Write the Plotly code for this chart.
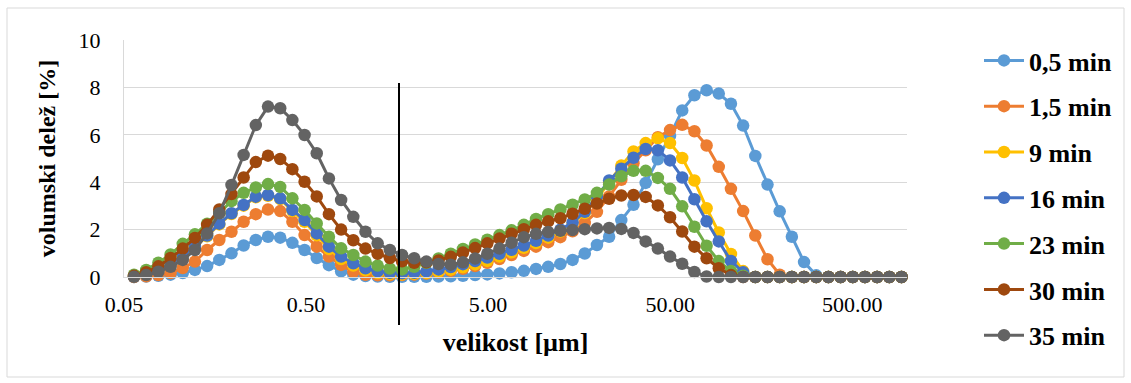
import plotly.graph_objects as go

# particle size classes [µm]
velikost = [0.05675, 0.06620, 0.07723, 0.09010, 0.1051, 0.1226, 0.1431, 0.1669, 0.1947, 0.2271,
            0.2649, 0.3091, 0.3606, 0.4206, 0.4907, 0.5725, 0.6678, 0.7791, 0.9089, 1.0603,
            1.2369, 1.4430, 1.6834, 1.9638, 2.2909, 2.6726, 3.1178, 3.6372, 4.2431, 4.9500,
            5.7746, 6.7366, 7.8588, 9.1680, 10.695, 12.477, 14.556, 16.980, 19.809, 23.109,
            26.959, 31.450, 36.689, 42.801, 49.931, 58.249, 67.952, 79.272, 92.478, 107.88,
            125.86, 146.82, 171.28, 199.81, 233.10, 271.93, 317.23, 370.08, 431.73, 503.65,
            587.56, 685.44, 799.62, 932.83]

t_0_5 = [0.0, 0.02, 0.05, 0.1, 0.17, 0.3, 0.46, 0.72, 1.0, 1.33,
         1.56, 1.7, 1.66, 1.44, 1.14, 0.8, 0.5, 0.24, 0.1, 0.04,
         0.02, 0.01, 0.01, 0.01, 0.01, 0.02, 0.03, 0.05, 0.08, 0.11,
         0.15, 0.2, 0.26, 0.34, 0.43, 0.55, 0.72, 0.99, 1.35, 1.7,
         2.4, 3.05, 3.97, 4.97, 5.96, 7.03, 7.67, 7.88, 7.74, 7.31,
         6.39, 5.11, 3.9, 2.77, 1.7, 0.63, 0.07, 0, 0, 0,
         0, 0, 0, 0]
t_1_5 = [0.0, 0.03, 0.08, 0.17, 0.38, 0.65, 1.14, 1.56, 1.91, 2.33,
         2.65, 2.85, 2.78, 2.33, 1.77, 1.28, 0.86, 0.51, 0.22, 0.09,
         0.07, 0.07, 0.08, 0.1, 0.14, 0.19, 0.26, 0.35, 0.46, 0.6,
         0.76, 0.93, 1.1, 1.28, 1.47, 1.68, 1.93, 2.28, 2.75, 3.4,
         4.1, 4.8, 5.35, 5.9, 6.2, 6.42, 6.15, 5.55, 4.65, 3.72,
         2.78, 1.75, 0.75, 0.1, 0, 0, 0, 0, 0, 0,
         0, 0, 0, 0]
t_9 = [0.03, 0.11, 0.28, 0.52, 0.87, 1.27, 1.72, 2.22, 2.66, 3.01,
       3.36, 3.43, 3.29, 2.78, 2.33, 1.76, 1.18, 0.76, 0.48, 0.28,
       0.17, 0.12, 0.11, 0.13, 0.17, 0.23, 0.31, 0.41, 0.53, 0.68,
       0.86, 1.04, 1.23, 1.43, 1.66, 1.92, 2.25, 2.7, 3.3, 4.0,
       4.7, 5.3, 5.65, 5.85, 5.65, 5.02, 4.07, 2.9, 1.88, 0.97,
       0.25, 0, 0, 0, 0, 0, 0, 0, 0, 0,
       0, 0, 0, 0]
t_16 = [0.03, 0.12, 0.3, 0.55, 0.9, 1.3, 1.75, 2.25, 2.69, 3.04,
        3.39, 3.46, 3.32, 2.83, 2.4, 1.84, 1.28, 0.86, 0.58, 0.37,
        0.24, 0.18, 0.16, 0.18, 0.24, 0.32, 0.42, 0.54, 0.67, 0.82,
        0.98, 1.15, 1.33, 1.53, 1.75, 2.0, 2.3, 2.75, 3.4, 4.07,
        4.57, 5.03, 5.4, 5.35, 4.92, 4.2, 3.28, 2.35, 1.5, 0.68,
        0.2, 0, 0, 0, 0, 0, 0, 0, 0, 0,
        0, 0, 0, 0]
t_23 = [0.1, 0.3, 0.6, 0.95, 1.4, 1.8, 2.25, 2.7, 3.2, 3.55,
        3.78, 3.92, 3.8, 3.32, 2.83, 2.26, 1.7, 1.21, 0.93, 0.65,
        0.48, 0.36, 0.32, 0.43, 0.6, 0.78, 0.98, 1.18, 1.37, 1.57,
        1.77, 1.97, 2.2, 2.45, 2.65, 2.85, 3.05, 3.27, 3.55, 3.9,
        4.25, 4.48, 4.48, 4.18, 3.72, 2.98, 2.12, 1.32, 0.67, 0.25,
        0.05, 0, 0, 0, 0, 0, 0, 0, 0, 0,
        0, 0, 0, 0]
t_30 = [0.05, 0.2, 0.45, 0.8, 1.2, 1.65, 2.2, 2.85, 3.5, 4.2,
        4.85, 5.12, 4.98, 4.55, 4.02, 3.4, 2.65, 2.0, 1.55, 1.2,
        0.98, 0.8, 0.66, 0.6, 0.62, 0.7, 0.85, 1.03, 1.22, 1.42,
        1.62, 1.83, 2.02, 2.2, 2.35, 2.48, 2.67, 2.88, 3.1, 3.3,
        3.44, 3.46, 3.38, 3.02, 2.52, 1.92, 1.28, 0.79, 0.37, 0.08,
        0, 0, 0, 0, 0, 0, 0, 0, 0, 0,
        0, 0, 0, 0]
t_35 = [0.01, 0.08, 0.22, 0.43, 0.72, 1.14, 1.84, 2.69, 3.88, 5.15,
        6.41, 7.19, 7.12, 6.62, 5.99, 5.22, 4.16, 3.25, 2.54, 1.91,
        1.42, 1.14, 0.93, 0.79, 0.65, 0.55, 0.52, 0.62, 0.78, 0.98,
        1.2, 1.45, 1.68, 1.82, 1.9, 1.95, 1.98, 2.02, 2.05, 2.07,
        2.03, 1.86, 1.5, 1.2, 0.86, 0.56, 0.21, 0.02, 0, 0,
        0, 0, 0, 0, 0, 0, 0, 0, 0, 0,
        0, 0, 0, 0]

series_names = ["0,5 min", "1,5 min", "9 min", "16 min", "23 min", "30 min", "35 min"]
series_values = [t_0_5, t_1_5, t_9, t_16, t_23, t_30, t_35]
series_colors = ["#5B9BD5", "#ED7D31", "#FFC000", "#4472C4", "#70AD47", "#9E480E", "#636363"]

x_tick_vals = [0.05, 0.5, 5, 50, 500]
x_tick_text = ["0.05", "0.50", "5.00", "50.00", "500.00"]

SERIF = "Liberation Serif, Times New Roman, serif"

fig = go.Figure()
for name, vals, col in zip(series_names, series_values, series_colors):
    fig.add_trace(go.Scatter(
        x=velikost, y=vals, name=name, mode="lines+markers",
        line=dict(color=col, width=3),
        marker=dict(color=col, size=12.5, line=dict(width=0)),
        legendgroup=name, cliponaxis=False,
    ))

# plot-area geometry in pixels
W, H = 1131, 383
L, R, T, B = 124, 907, 40, 277
pw, ph = R - L, B - T

def px_x(px):
    return (px - L) / pw

def px_y(py):
    return (B - py) / ph

shapes = [
    # chart border
    dict(type="rect", xref="paper", yref="paper",
         x0=px_x(7), x1=px_x(1124), y0=px_y(377), y1=px_y(8),
         line=dict(color="#D9D9D9", width=1), layer="below"),
    # divider line
    dict(type="line", xref="paper", yref="paper",
         x0=px_x(399), x1=px_x(399), y0=px_y(325), y1=px_y(83),
         line=dict(color="black", width=2)),
]

fig.update_layout(
    width=W, height=H,
    margin=dict(l=L, r=W - R, t=T, b=H - B, autoexpand=False),
    paper_bgcolor="white", plot_bgcolor="white",
    font=dict(family=SERIF, color="black"),
    shapes=shapes,
    legend=dict(
        x=px_x(979), xanchor="left",
        y=px_y(37), yanchor="top",
        maxheight=370,
        font=dict(family=SERIF, size=26, weight="bold", color="black"),
        tracegroupgap=9, itemwidth=40, bgcolor="rgba(0,0,0,0)",
    ),
    xaxis=dict(
        type="log", range=[-1.30103, 3.0],
        tickvals=x_tick_vals, ticktext=x_tick_text,
        showgrid=False, zeroline=False,
        showline=True, linecolor="#D9D9D9", linewidth=1,
        ticks="", tickfont=dict(family=SERIF, size=22, color="black"),
        ticklabelstandoff=8,
        title=dict(text="velikost [µm]", standoff=16,
                   font=dict(family=SERIF, size=26, weight="bold", color="black")),
    ),
    yaxis=dict(
        range=[0, 10], tickvals=[0, 2, 4, 6, 8, 10],
        showgrid=True, gridcolor="#D9D9D9", gridwidth=1, zeroline=False,
        showline=True, linecolor="#D9D9D9", linewidth=1,
        ticks="", tickfont=dict(family=SERIF, size=22, color="black"),
        ticklabelstandoff=18,
        title=dict(text="volumski delež [%]", standoff=16,
                   font=dict(family=SERIF, size=24, weight="bold", color="black")),
    ),
)

fig.write_html("out.html")
